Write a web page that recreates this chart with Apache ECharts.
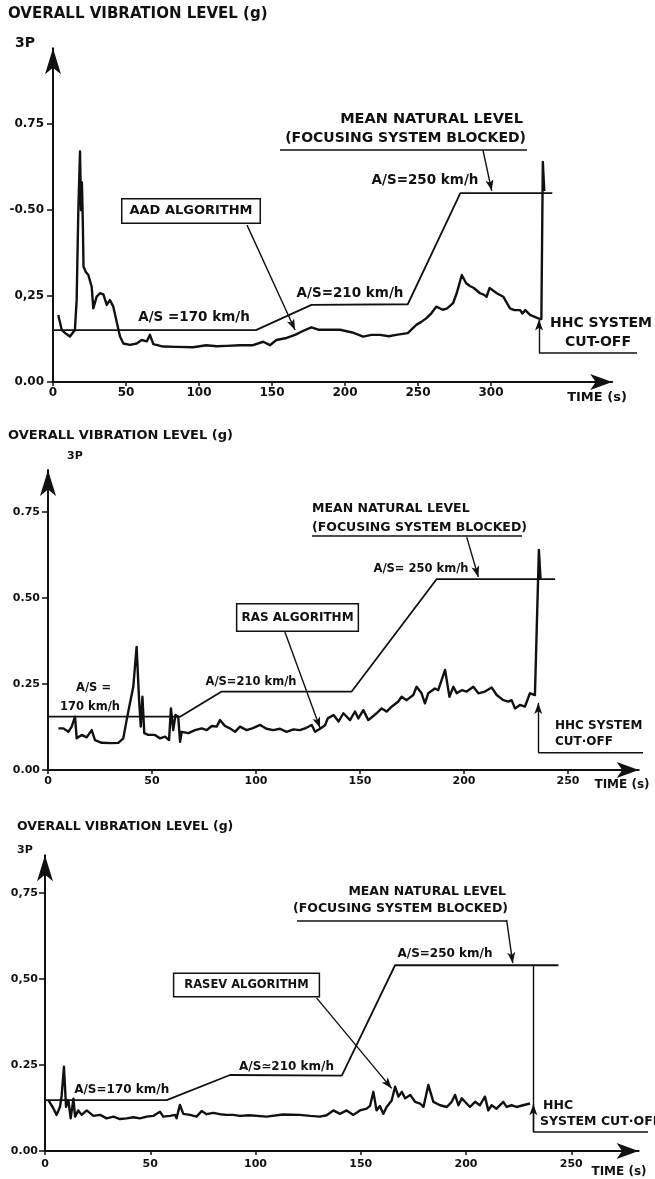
<!DOCTYPE html>
<html><head><meta charset="utf-8">
<script src="https://cdn.jsdelivr.net/npm/echarts@6/dist/echarts.min.js"></script>
<style>html,body{margin:0;padding:0;background:#fff}#c{width:655px;height:1179px}</style>
</head><body><div id="c"></div>
<script>
// ---------- DATA ----------
// Panel 1: AAD algorithm
const aadTime  = [3.6,6,9,11.6,15,16.2,17.3,18.5,19.2,19.8,20.4,20.9,22.5,24.2,26.5,27.6,29.9,32.2,34.5,36.8,39,41.3,43.6,45.9,48.2,52.7,57.3,60.7,64.2,66.4,68.7,75.5,84.6,96,105,112,119,128,137,144,148.6,153,160,165.8,171.5,177,181.7,186.3,196.6,205,212.5,218,224,230,235,243,248.8,252,255.6,259,262.5,267,270,274,276.5,278,280,283,285.5,288,292.5,295,297,299,304,308.4,313,316,320,321.5,323.5,326.7,332.4,334.5,335.5,336.5];
const aadLevel = [0.195,0.151,0.14,0.132,0.151,0.238,0.49,0.67,0.50,0.58,0.47,0.335,0.32,0.311,0.277,0.214,0.248,0.258,0.255,0.224,0.238,0.219,0.175,0.132,0.112,0.108,0.112,0.122,0.118,0.137,0.110,0.103,0.102,0.101,0.107,0.104,0.105,0.107,0.107,0.117,0.107,0.122,0.128,0.137,0.149,0.159,0.152,0.152,0.152,0.144,0.132,0.137,0.137,0.133,0.137,0.142,0.166,0.174,0.185,0.199,0.219,0.21,0.214,0.229,0.258,0.28,0.311,0.287,0.279,0.274,0.258,0.254,0.248,0.273,0.258,0.248,0.214,0.209,0.209,0.199,0.209,0.195,0.185,0.183,0.64,0.555];
const aadMeanTime  = [0,139,177,243,279,342];
const aadMeanLevel = [0.151,0.151,0.224,0.226,0.549,0.549];

// Panel 2: RAS algorithm
const rasTime  = [5,7.4,9.8,11.4,13,13.8,16.2,18.6,21,22.6,25.8,30.6,33.8,36.2,37.8,39.4,41,42.6,43.8,44.6,45.4,46.3,48.2,51.4,53.8,56.3,58.2,59.1,60.2,61.3,62.6,63.5,64.3,67.5,70.7,73.9,76.3,78.7,81.1,82.7,85.1,87.5,89.9,92.3,95.5,98.5,102,105,108.3,111.5,114.7,118,121,124,126.8,128.4,130.8,133.2,134.5,137.3,139.7,142,145.2,147.6,149.2,151.6,154,158,160.4,162.8,165.2,168.4,170,172.4,175.6,177.2,179.6,181.2,182.8,186,187.6,190.9,193,194.9,196.5,198.9,201.3,204.5,206.9,210.1,213.3,215.7,218.9,221.3,222.9,224.5,226.9,229.3,231.7,234.1,234.9,236,236.8];
const rasLevel = [0.121,0.121,0.111,0.126,0.155,0.092,0.102,0.095,0.116,0.087,0.079,0.078,0.079,0.092,0.145,0.194,0.242,0.358,0.203,0.126,0.213,0.107,0.102,0.102,0.092,0.097,0.087,0.179,0.116,0.16,0.155,0.082,0.111,0.107,0.116,0.121,0.116,0.128,0.126,0.145,0.128,0.121,0.111,0.126,0.116,0.122,0.131,0.12,0.116,0.12,0.111,0.118,0.116,0.122,0.131,0.111,0.12,0.13,0.15,0.16,0.141,0.165,0.145,0.17,0.15,0.174,0.145,0.165,0.179,0.17,0.184,0.199,0.213,0.203,0.218,0.242,0.223,0.194,0.223,0.237,0.232,0.291,0.213,0.242,0.223,0.232,0.228,0.242,0.223,0.228,0.24,0.218,0.203,0.199,0.203,0.179,0.189,0.184,0.223,0.218,0.213,0.64,0.555];
const rasMeanTime  = [0,63.5,83.5,146,186.9,243.8];
const rasMeanLevel = [0.155,0.155,0.228,0.228,0.555,0.555];

// Panel 3: RASEV algorithm
const rasevTime  = [1.6,3.9,5.5,7.1,7.9,9,10,11.1,12.2,13.5,14.3,15.8,17.4,19.8,23,26.2,29.3,32.5,35.6,38.8,42,45.1,48.3,51.4,54.6,56.2,59.4,61.8,62.5,64.1,65.7,68.9,72,74.4,76.8,79.9,83.1,86.3,89.4,92.6,97,105.3,113,121,126,130.6,133.8,137,140.1,143.3,146.5,149.6,152.8,154.4,156,157.5,159.1,160.7,162.3,164.7,166.3,167.9,169.5,171.1,173.5,175.8,178.2,179.8,182.1,184.5,187.7,190.9,193.2,194.8,196.4,198,200.3,201.9,204.3,206.6,209,210.6,212.2,214.5,217.7,219.3,221.6,224,227.1,230.4];
const rasevLevel = [0.148,0.125,0.105,0.128,0.16,0.245,0.128,0.148,0.095,0.152,0.1,0.118,0.105,0.118,0.102,0.105,0.095,0.1,0.093,0.095,0.098,0.095,0.1,0.102,0.114,0.1,0.102,0.105,0.095,0.134,0.108,0.105,0.1,0.116,0.107,0.111,0.107,0.105,0.105,0.102,0.104,0.1,0.106,0.105,0.102,0.1,0.104,0.118,0.108,0.118,0.105,0.118,0.123,0.131,0.172,0.118,0.131,0.108,0.128,0.147,0.187,0.158,0.172,0.153,0.163,0.143,0.138,0.128,0.192,0.143,0.133,0.128,0.143,0.163,0.133,0.153,0.138,0.128,0.143,0.133,0.158,0.118,0.133,0.123,0.143,0.128,0.133,0.128,0.133,0.138];
const rasevMeanTime  = [0,57.8,87.9,141,166.3,243.9];
const rasevMeanLevel = [0.148,0.148,0.221,0.219,0.54,0.54];

// Tick labels
const xTicks1 = [0,50,100,150,200,250,300];
const xTicks2 = [0,50,100,150,200,250];
const xTicks3 = [0,50,100,150,200,250];
const yTicks = [0,0.25,0.5,0.75];
const yLabels1 = ['0.00','0,25','-0.50','0.75'];
const yLabels2 = ['0.00','0.25','0.50','0.75'];
const yLabels3 = ['0.00','0.25','0,50','0,75'];

// ---------- CHART ----------
const INK = '#111';
const FF = 'DejaVu Sans';
const zip = (a, b) => a.map((v, i) => [v, b[i]]);

// panel geometry (pixel): origin x, origin y, px per s, px per g, x max, y max
const P = [
  {ox:53, oy:382, sx:1.46, sy:344, xmax:383, ymax:0.97, tick:12, lm:9},
  {ox:48, oy:770, sx:2.08, sy:344, xmax:284, ymax:0.872, tick:11, lm:8},
  {ox:45, oy:1151, sx:2.105, sy:344, xmax:282, ymax:0.86, tick:11, lm:7}
];
const xTicks = [xTicks1, xTicks2, xTicks3];
const yLabels = [yLabels1, yLabels2, yLabels3];
const xMargins = [5, 6, 8];

const grid = P.map(p => ({left:p.ox, top:p.oy - p.ymax*p.sy, width:p.xmax*p.sx, height:p.ymax*p.sy}));

const xAxis = P.map((p, i) => ({
  type:'value', gridIndex:i, min:0, max:p.xmax, interval:50,
  splitLine:{show:false},
  axisLine:{show:true, onZero:false, symbol:['none','arrow'], symbolSize:[12,22], lineStyle:{color:INK, width:2}},
  axisTick:{show:true, length:4, customValues:xTicks[i], lineStyle:{color:INK, width:1.5}},
  axisLabel:{show:true, customValues:xTicks[i], margin:xMargins[i], color:INK, fontFamily:FF, fontWeight:'bold', fontSize:p.tick,
    formatter: v => String(v)}
}));
const yAxis = P.map((p, i) => ({
  type:'value', gridIndex:i, min:0, max:p.ymax, interval:0.25,
  splitLine:{show:false},
  axisLine:{show:true, onZero:false, symbol:['none','arrow'], symbolSize:[12,26], lineStyle:{color:INK, width:2}},
  axisTick:{show:true, length:6, customValues:yTicks, lineStyle:{color:INK, width:1.5}},
  axisLabel:{show:true, customValues:yTicks, margin:p.lm, color:INK, fontFamily:FF, fontWeight:'bold', fontSize:p.tick,
    formatter: v => { const k = yTicks.findIndex(t => Math.abs(t - v) < 1e-6); return k >= 0 ? yLabels[i][k] : ''; }}
}));

function arrow(a, b, head) {
  return [
    {coord:a, symbol:'none'},
    {coord:b, symbol: head ? 'arrow' : 'none', symbolSize:[6,11]}
  ];
}

const annot = [
  [ arrow([294.5,0.674],[300.5,0.556],true), arrow([132.9,0.456],[165.8,0.151],true), arrow([332.9,0.084],[332.9,0.182],true) ],
  [ arrow([201.3,0.677],[206.9,0.561],true), arrow([113.9,0.401],[130.8,0.122],true), arrow([235.7,0.05],[235.7,0.195],true) ],
  [ arrow([219.3,0.672],[222.2,0.546],true), arrow([129,0.445],[164.7,0.182],true),
    arrow([232,0.055],[232,0.54],false), arrow([232,0.055],[232,0.136],true) ]
];

const vib = [zip(aadTime, aadLevel), zip(rasTime, rasLevel), zip(rasevTime, rasevLevel)];
const mean = [zip(aadMeanTime, aadMeanLevel), zip(rasMeanTime, rasMeanLevel), zip(rasevMeanTime, rasevMeanLevel)];

const series = [];
for (let i = 0; i < 3; i++) {
  series.push({type:'line', xAxisIndex:i, yAxisIndex:i, data:vib[i], showSymbol:false, clip:false,
    lineStyle:{color:INK, width:2.4, join:'round'}, itemStyle:{color:INK}});
  series.push({type:'line', xAxisIndex:i, yAxisIndex:i, data:mean[i], showSymbol:false, clip:false,
    lineStyle:{color:INK, width:1.8}, itemStyle:{color:INK},
    markLine:{silent:true, animation:false, symbol:['none','arrow'], label:{show:false},
      lineStyle:{color:INK, width:1.4, type:'solid'}, emphasis:{disabled:true}, data:annot[i]}});
}

function txt(x, y, text, size, align, extra) {
  return Object.assign({type:'text', x:x, y:y, silent:true, z:50,
    style:Object.assign({text:text, fill:INK, fontFamily:FF, fontWeight:'bold', fontSize:size,
      align:align || 'left', textAlign:align || 'left', verticalAlign:'middle', textVerticalAlign:'middle'}, extra || {})});
}
function seg(x1, y1, x2, y2) {
  return {type:'line', silent:true, z:50, shape:{x1, y1, x2, y2}, style:{stroke:INK, lineWidth:1.5}};
}
const boxStyle = {backgroundColor:'#fff', borderColor:INK, borderWidth:1.5};

const graphic = [
  // panel 1
  txt(8, 14, 'OVERALL VIBRATION LEVEL (g)', 15),
  txt(15, 43, '3P', 14),
  txt(523, 119, 'MEAN NATURAL LEVEL', 14.5, 'right'),
  txt(526, 138, '(FOCUSING SYSTEM BLOCKED)', 14, 'right'),
  seg(280, 150, 527, 150),
  txt(425, 180, 'A/S=250 km/h', 13.5, 'center'),
  txt(191, 211, 'AAD ALGORITHM', 13, 'center', Object.assign({padding:[5,7]}, boxStyle)),
  txt(194, 317, 'A/S =170 km/h', 13.5, 'center'),
  txt(350, 293, 'A/S=210 km/h', 13.5, 'center'),
  txt(601, 323, 'HHC SYSTEM', 14, 'center'),
  txt(598, 342, 'CUT-OFF', 14, 'center'),
  seg(539, 353, 637, 353),
  txt(597, 398, 'TIME (s)', 13, 'center'),
  // panel 2
  txt(8, 436, 'OVERALL VIBRATION LEVEL (g)', 13),
  txt(67, 456, '3P', 11),
  txt(312, 509, 'MEAN NATURAL LEVEL', 12.5),
  txt(312, 528, '(FOCUSING SYSTEM BLOCKED)', 12.5),
  seg(312, 536, 522, 536),
  txt(421, 569, 'A/S= 250 km/h', 11.5, 'center'),
  txt(297.5, 617.5, 'RAS ALGORITHM', 12, 'center', Object.assign({padding:[7,4]}, boxStyle)),
  txt(251, 682, 'A/S=210 km/h', 11.5, 'center'),
  txt(93.5, 688, 'A/S =', 11.5, 'center'),
  txt(90, 707, '170 km/h', 11.5, 'center'),
  txt(555, 726, 'HHC SYSTEM', 12),
  txt(555, 742, 'CUT·OFF', 12),
  seg(538.3, 752.7, 643, 752.7),
  txt(622, 785, 'TIME (s)', 12, 'center'),
  // panel 3
  txt(17, 827, 'OVERALL VIBRATION LEVEL (g)', 12.5),
  txt(17, 850, '3P', 11),
  txt(506, 892, 'MEAN NATURAL LEVEL', 12.5, 'right'),
  txt(508, 909, '(FOCUSING SYSTEM BLOCKED)', 12.5, 'right'),
  seg(297, 921, 507, 921),
  txt(445, 954, 'A/S=250 km/h', 12, 'center'),
  txt(246.5, 985, 'RASEV ALGORITHM', 11.5, 'center', Object.assign({padding:[5,10]}, boxStyle)),
  txt(286.5, 1067, 'A/S≃210 km/h', 12, 'center'),
  txt(121.7, 1090, 'A/S=170 km/h', 12, 'center'),
  txt(543, 1106, 'HHC', 12.5),
  txt(540, 1122, 'SYSTEM CUT·OFF', 12.5),
  seg(533.3, 1132, 648, 1132),
  txt(619, 1172, 'TIME (s)', 12, 'center')
];

const chart = echarts.init(document.getElementById('c'), null, {renderer:'canvas'});
chart.setOption({
  animation:false, backgroundColor:'#fff',
  grid, xAxis, yAxis, series, graphic
});
</script></body></html>
